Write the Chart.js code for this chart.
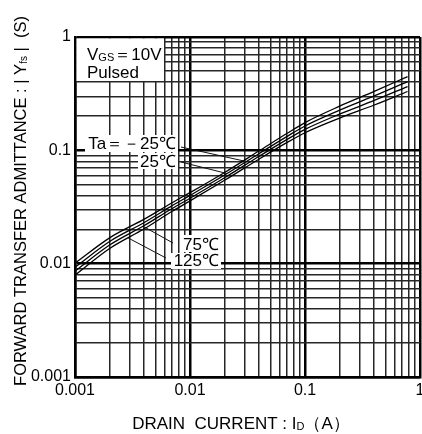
<!DOCTYPE html>
<html>
<head>
<meta charset="utf-8">
<script src="https://cdn.jsdelivr.net/npm/chart.js@4.4.1/dist/chart.umd.min.js"></script>
<style>
html, body { margin: 0; padding: 0; background: #fff; }
#wrap { width: 422px; height: 434px; }
</style>
</head>
<body>
<div id="wrap"><canvas id="chart" width="422" height="434"></canvas></div>
<script>
// values (log-log)
var drainCurrent = [0.001, 0.002, 0.004, 0.007, 0.01, 0.02, 0.04, 0.07, 0.1, 0.2, 0.4, 0.78];
var yfsM25 = [0.0101, 0.0169, 0.0247, 0.0345, 0.0423, 0.0638, 0.0991, 0.1414, 0.1758, 0.2452, 0.3311, 0.4477];
var yfs25  = [0.0093, 0.0157, 0.0231, 0.0325, 0.0400, 0.0605, 0.0938, 0.1329, 0.1641, 0.2262, 0.3020, 0.4046];
var yfs75  = [0.0086, 0.0146, 0.0217, 0.0307, 0.0378, 0.0573, 0.0887, 0.1249, 0.1531, 0.2087, 0.2754, 0.3656];
var yfs125 = [0.0079, 0.0136, 0.0203, 0.0290, 0.0358, 0.0544, 0.0839, 0.1174, 0.1429, 0.1925, 0.2512, 0.3304];

var majorTicks = [0.001, 0.01, 0.1, 1];
var majorLabels = ['0.001', '0.01', '0.1', '1'];
var minorSteps = [2, 3, 4, 5, 6, 7, 8, 9];

var FONT = '"Liberation Sans", Arial, sans-serif';

var gridTicks = [];
for (var i = 0; i < majorTicks.length; i++) {
    gridTicks.push(majorTicks[i]);
    if (i < majorTicks.length - 1) {
        minorSteps.forEach(function (s) {
            gridTicks.push(parseFloat((majorTicks[i] * s).toPrecision(3)));
        });
    }
}

function isMajor(v) {
    return majorTicks.some(function (m) { return Math.abs(v - m) / m < 1e-6; });
}

function pairs(ys) {
    return drainCurrent.map(function (x, i) { return { x: x, y: ys[i] }; });
}

function gridColor(ctx) {
    return ctx.tick && isMajor(ctx.tick.value) ? '#000' : '#262626';
}
function gridWidth(ctx) {
    return ctx.tick && isMajor(ctx.tick.value) ? 2.5 : 1.5;
}
function tickLabel(value) {
    var idx = majorTicks.findIndex(function (m) { return Math.abs(value - m) / m < 1e-6; });
    return idx >= 0 ? majorLabels[idx] : '';
}

// text with subscripts, parts = [[text, isSub], ...]
function drawParts(ctx, parts, x, y, size, align) {
    var w = 0;
    parts.forEach(function (p) {
        ctx.font = (p[1] ? Math.round(size * 0.62) : size) + 'px ' + FONT;
        w += ctx.measureText(p[0]).width;
    });
    var cx = align === 'center' ? x - w / 2 : (align === 'right' ? x - w : x);
    parts.forEach(function (p) {
        ctx.font = (p[1] ? Math.round(size * 0.62) : size) + 'px ' + FONT;
        ctx.fillText(p[0], cx, p[1] ? y + 1 : y);
        cx += ctx.measureText(p[0]).width;
    });
}

function whiteBox(ctx, x0, y0, x1, y1) {
    ctx.fillStyle = '#fff';
    ctx.fillRect(x0, y0, x1 - x0, y1 - y0);
}

function leader(ctx, x0, y0, x1, y1) {
    ctx.strokeStyle = '#111';
    ctx.lineWidth = 1;
    ctx.beginPath();
    ctx.moveTo(x0, y0);
    ctx.lineTo(x1, y1);
    ctx.stroke();
}

function curveY(ys, xv) {
    // log-log lookup on a curve for the leader line ends
    var lx = Math.log10(xv);
    for (var i = 0; i < drainCurrent.length - 1; i++) {
        var a = Math.log10(drainCurrent[i]), b = Math.log10(drainCurrent[i + 1]);
        if (lx >= a && lx <= b) {
            var t = (lx - a) / (b - a);
            return Math.pow(10, Math.log10(ys[i]) + t * (Math.log10(ys[i + 1]) - Math.log10(ys[i])));
        }
    }
    return ys[0];
}

var notes = {
    id: 'notes',
    beforeDatasetsDraw: function (chart) {
        var ctx = chart.ctx;
        var a = chart.chartArea;
        var xs = chart.scales.x, ys = chart.scales.y;
        ctx.save();
        ctx.textBaseline = 'alphabetic';

        whiteBox(ctx, a.left + 1.5, a.top + 1.5, 164, 81);
        whiteBox(ctx, 85, 135, 178, 152);
        whiteBox(ctx, 138, 153, 178, 169);
        whiteBox(ctx, 181, 235, 221, 252);
        whiteBox(ctx, 171, 253, 221, 269);

        ctx.fillStyle = '#000';
        drawParts(ctx, [['V', false], ['GS', true], ['\uFF1D10V', false]], 87, 60, 17, 'left');
        drawParts(ctx, [['Pulsed', false]], 87, 78, 17, 'left');
        drawParts(ctx, [['Ta\uFF1D\uFF0D25\u2103', false]], 176, 149, 17, 'right');
        drawParts(ctx, [['25\u2103', false]], 176, 167, 17, 'right');
        drawParts(ctx, [['75\u2103', false]], 219, 250, 17, 'right');
        drawParts(ctx, [['125\u2103', false]], 219, 266, 17, 'right');

        leader(ctx, 181, 147, xs.getPixelForValue(0.029), ys.getPixelForValue(curveY(yfsM25, 0.029)));
        leader(ctx, 181, 162, xs.getPixelForValue(0.021), ys.getPixelForValue(curveY(yfs25, 0.021)));
        leader(ctx, 173, 243, xs.getPixelForValue(0.0039), ys.getPixelForValue(curveY(yfs75, 0.0039)));
        leader(ctx, 166, 258, xs.getPixelForValue(0.0029), ys.getPixelForValue(curveY(yfs125, 0.0029)));

        // axis titles
        drawParts(ctx, [['DRAIN  CURRENT : I', false], ['D', true], ['\uFF08A\uFF09', false]], 241, 429, 17, 'center');
        ctx.translate(26, 201);
        ctx.rotate(-Math.PI / 2);
        drawParts(ctx, [['FORWARD TRANSFER ADMITTANCE : | Y', false], ['fs', true], [' |  (S)', false]], 0, 0, 16.5, 'center');
        ctx.restore();
    }
};

function lineSet(label, ys) {
    return {
        label: label,
        data: pairs(ys),
        borderColor: '#000',
        borderWidth: 1.3,
        pointRadius: 0,
        fill: false,
        cubicInterpolationMode: 'monotone'
    };
}

var chart = new Chart(document.getElementById('chart').getContext('2d'), {
    type: 'line',
    data: {
        datasets: [
            lineSet('Ta=-25', yfsM25),
            lineSet('25', yfs25),
            lineSet('75', yfs75),
            lineSet('125', yfs125)
        ]
    },
    options: {
        responsive: false,
        animation: false,
        devicePixelRatio: 1,
        layout: { padding: { top: 37, right: 2, left: 0, bottom: 0 } },
        plugins: { legend: { display: false }, tooltip: { enabled: false } },
        scales: {
            x: {
                type: 'logarithmic',
                min: 0.001,
                max: 1,
                afterBuildTicks: function (scale) {
                    scale.ticks = gridTicks.map(function (v) { return { value: v, major: isMajor(v) }; });
                },
                afterFit: function (scale) {
                    scale.height = 57;
                    scale.paddingLeft = 0;
                    scale.paddingRight = 0;
                },
                grid: { color: gridColor, lineWidth: gridWidth, drawTicks: false },
                border: { color: '#000', width: 2.5 },
                ticks: {
                    autoSkip: false,
                    maxRotation: 0,
                    padding: 4,
                    color: '#000',
                    font: { family: FONT, size: 16 },
                    callback: tickLabel
                }
            },
            y: {
                type: 'logarithmic',
                min: 0.001,
                max: 1,
                afterBuildTicks: function (scale) {
                    scale.ticks = gridTicks.map(function (v) { return { value: v, major: isMajor(v) }; });
                },
                afterFit: function (scale) {
                    scale.width = 75;
                },
                grid: { color: gridColor, lineWidth: gridWidth, drawTicks: false },
                border: { color: '#000', width: 2.5 },
                ticks: {
                    autoSkip: false,
                    padding: 4,
                    color: '#000',
                    font: { family: FONT, size: 16 },
                    callback: tickLabel
                }
            }
        }
    },
    plugins: [notes]
});
</script>
</body>
</html>
